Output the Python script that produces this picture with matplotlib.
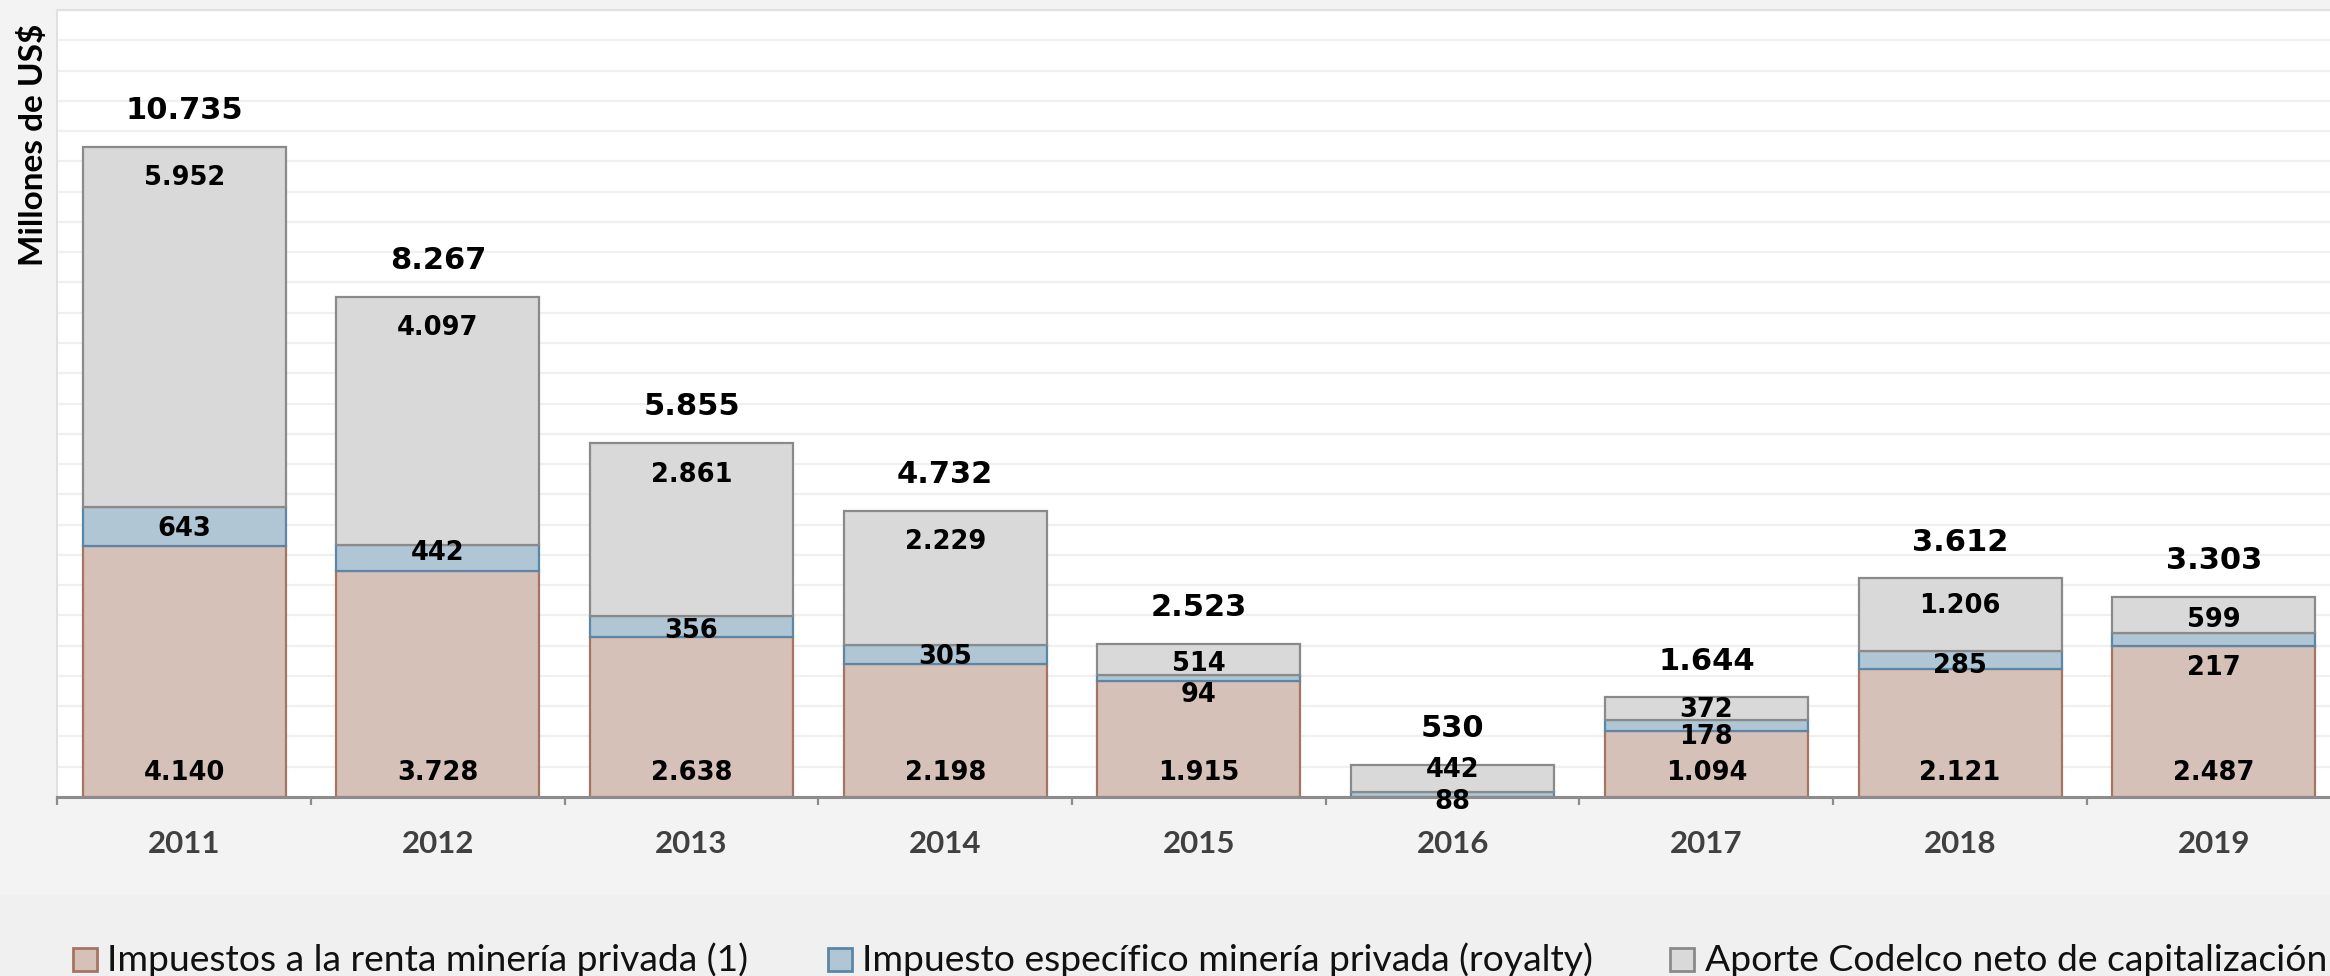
import numpy as np
import matplotlib
matplotlib.use("Agg")
import matplotlib.pyplot as plt
import matplotlib.transforms as mtransforms
from matplotlib.patches import Rectangle

# ---------------- data ----------------
years = ["2011", "2012", "2013", "2014", "2015", "2016", "2017", "2018", "2019"]
renta = [4140, 3728, 2638, 2198, 1915, 0, 1094, 2121, 2487]
royalty = [643, 442, 356, 305, 94, 88, 178, 285, 217]
codelco = [5952, 4097, 2861, 2229, 514, 442, 372, 1206, 599]
series_names = [
    "Impuestos a la renta minería privada (1)",
    "Impuesto específico minería privada (royalty)",
    "Aporte Codelco neto de capitalización",
]
y_label = "Millones de US$"

# ---------------- style ----------------
W, H, DPI = 2330, 976, 100
PT = 72.0 / DPI  # px -> pt
fills = ["#d6c1b9", "#b1c6d4", "#d9d9d9"]
edges = ["#a57564", "#5b86a6", "#8a8a8a"]
# label nudges (pixels, positive = downward)
royalty_nudge = [0, -7, 2, 0, 14, 5, 9, 4, 26]
gray_from_top = [28, 29, 30, 29, 17.5, 2.6, 9.6, 25, 20]


def fmt(v):
    return f"{v:,}".replace(",", ".")


fig = plt.figure(figsize=(W / DPI, H / DPI), dpi=DPI, facecolor="#f3f3f3")
fig.patches.append(Rectangle((0, 0), 1, 81 / H, transform=fig.transFigure,
                             facecolor="#f0f0f0", edgecolor="none", zorder=-5))

ax = fig.add_axes([57.3 / W, 179 / H, 2283.3 / W, 787 / H])
ax.set_facecolor("white")
x = np.arange(len(years))
ax.set_xlim(-0.5, len(years) - 0.5)
ax.set_ylim(0, 13000)

ax.set_yticks(np.arange(0, 13001, 500))
ax.yaxis.grid(True, color="#f0f0f0", linewidth=1.6)
ax.set_axisbelow(True)
ax.tick_params(axis="y", left=False, labelleft=False)
ax.set_xticks(np.arange(-0.5, len(years), 1.0))
ax.tick_params(axis="x", direction="out", length=6, width=1.6, color="#8c8c8c",
               labelbottom=False)

for s in ["left", "top"]:
    ax.spines[s].set_color("#e0e0e0")
    ax.spines[s].set_linewidth(1.5)
ax.spines["right"].set_visible(False)
ax.spines["bottom"].set_color("#8c8c8c")
ax.spines["bottom"].set_linewidth(2.2)
ax.spines["bottom"].set_zorder(5)

renta_a = np.array(renta)
roy_a = np.array(royalty)
cod_a = np.array(codelco)
bw = 0.8
ax.bar(x, renta_a, bw, color=fills[0], edgecolor=edges[0], linewidth=1.6, zorder=2)
ax.bar(x, roy_a, bw, bottom=renta_a, color=fills[1], edgecolor=edges[1],
       linewidth=1.6, zorder=3)
ax.bar(x, cod_a, bw, bottom=renta_a + roy_a, color=fills[2], edgecolor=edges[2],
       linewidth=1.6, zorder=4)

totals = renta_a + roy_a + cod_a
lab_kw = dict(ha="center", va="baseline", textcoords="offset points",
              fontweight="bold", family="DejaVu Sans", color="black", zorder=10)
for i in range(len(years)):
    # total
    ax.annotate(fmt(int(totals[i])), (x[i], totals[i]),
                xytext=(0, (39 - 11.2) * PT), fontsize=22, **lab_kw)
    # codelco (inside end)
    ax.annotate(fmt(codelco[i]), (x[i], totals[i]),
                xytext=(0, -(gray_from_top[i] + 9.5) * PT), fontsize=18.5, **lab_kw)
    # royalty
    ax.annotate(fmt(royalty[i]), (x[i], renta[i] + royalty[i] / 2),
                xytext=(0, -(royalty_nudge[i] + 9.5) * PT), fontsize=18.5, **lab_kw)
    # renta (inside base)
    if renta[i] > 0:
        ax.annotate(fmt(renta[i]), (x[i], 0),
                    xytext=(0, (26 - 9.5) * PT), fontsize=18.5, **lab_kw)

trans = mtransforms.blended_transform_factory(ax.transData, ax.transAxes)
for i, yr in enumerate(years):
    ax.text(x[i], -(852.7 - 797) / 787, yr, transform=trans, ha="center",
            va="baseline", fontsize=22.5, family="Lato", fontweight="bold",
            color="#404040")

fig.text(43 / W, 1 - 145 / H, y_label, rotation=90, rotation_mode="anchor",
         ha="center", va="baseline", fontsize=24, family="Lato",
         fontweight="bold", color="black")

# legend (manual)
marker_x = [72.7, 828.3, 1670]
text_x = [107, 861.7, 1705]
for i, name in enumerate(series_names):
    fig.patches.append(Rectangle((marker_x[i] / W, 5 / H), 24 / W, 23.3 / H,
                                 transform=fig.transFigure, facecolor=fills[i],
                                 edgecolor=edges[i], linewidth=2.0, zorder=3))
    fig.text(text_x[i] / W, 5 / H, name, ha="left", va="baseline",
             fontsize=26.8, family="Lato", color="#111111")

fig.savefig("out.png", dpi=DPI, facecolor=fig.get_facecolor())
